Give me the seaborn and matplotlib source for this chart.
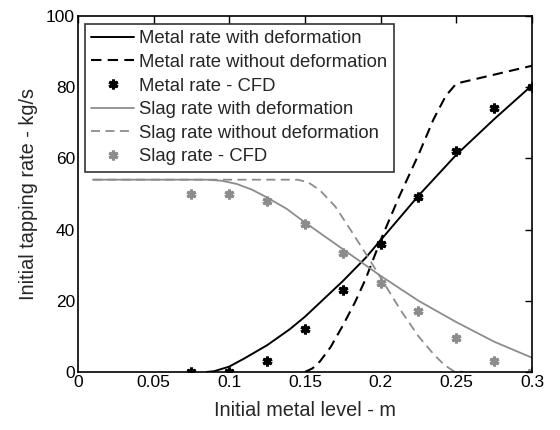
import matplotlib
matplotlib.use("Agg")
import matplotlib.pyplot as plt
import seaborn as sns

# Curves
metal_def_x = [0.085, 0.09, 0.1, 0.11, 0.125, 0.14, 0.15, 0.165, 0.175, 0.19, 0.2, 0.225, 0.25, 0.275, 0.3]
metal_def_y = [0, 0.2, 1.5, 3.8, 7.5, 12, 15.5, 21.5, 25.5, 32, 37, 49.5, 61, 71, 80.5]

metal_nodef_x = [0.15, 0.155, 0.16, 0.167, 0.175, 0.183, 0.19, 0.2, 0.212, 0.225, 0.235, 0.243, 0.25, 0.3]
metal_nodef_y = [0, 1, 3, 7, 13, 19.5, 26, 37, 49, 61, 71, 77.5, 81, 86]

metal_cfd_x = [0.075, 0.1, 0.125, 0.15, 0.175, 0.2, 0.225, 0.25, 0.275, 0.3]
metal_cfd_y = [0, 0, 3, 12, 23, 36, 49, 62, 74, 80]

slag_def_x = [0.01, 0.085, 0.095, 0.105, 0.115, 0.125, 0.138, 0.15, 0.175, 0.2, 0.225, 0.25, 0.275, 0.3]
slag_def_y = [54, 54, 53.7, 52.8, 51.2, 49, 45.8, 42, 34.5, 27, 20, 14, 8.5, 4]

slag_nodef_x = [0.01, 0.145, 0.152, 0.16, 0.17, 0.18, 0.192, 0.2, 0.213, 0.225, 0.235, 0.242, 0.248, 0.255]
slag_nodef_y = [54, 54, 53.3, 51, 46.5, 40, 32, 26.5, 17.5, 10, 5, 2, 0.3, 0]

slag_cfd_x = [0.075, 0.1, 0.125, 0.15, 0.175, 0.2, 0.225, 0.25, 0.275, 0.3]
slag_cfd_y = [50, 50, 48, 41.5, 33.5, 25, 17, 9.5, 3, 0]

x_ticks = [0, 0.05, 0.1, 0.15, 0.2, 0.25, 0.3]
x_tick_labels = ["0", "0.05", "0.1", "0.15", "0.2", "0.25", "0.3"]
y_ticks = [0, 20, 40, 60, 80, 100]

sns.set_style("white")
plt.rcParams['font.family'] = ['Liberation Sans', 'DejaVu Sans']

fig = plt.figure(figsize=(5.6, 4.3), dpi=100)
ax = fig.add_axes([0.139, 0.135, 0.811, 0.828])

gray = "#8c8c8c"
star = (6, 2, 0)

sns.lineplot(x=metal_def_x, y=metal_def_y, ax=ax, color="black", lw=1.4,
             label="Metal rate with deformation", sort=False)
sns.lineplot(x=metal_nodef_x, y=metal_nodef_y, ax=ax, color="black", lw=1.5,
             label="Metal rate without deformation", sort=False)
ax.lines[-1].set_linestyle((0, (5, 3)))
ax.plot(metal_cfd_x, metal_cfd_y, ls="none", marker=star, ms=7, mew=2.2,
        color="black", label="Metal rate - CFD")
sns.lineplot(x=slag_def_x, y=slag_def_y, ax=ax, color=gray, lw=1.3,
             label="Slag rate with deformation", sort=False)
sns.lineplot(x=slag_nodef_x, y=slag_nodef_y, ax=ax, color=gray, lw=1.3,
             label="Slag rate without deformation", sort=False)
ax.lines[-1].set_linestyle((0, (5, 3)))
ax.plot(slag_cfd_x, slag_cfd_y, ls="none", marker=star, ms=7, mew=2.2,
        color=gray, label="Slag rate - CFD")

ax.set_xlim(0, 0.3)
ax.set_ylim(0, 100)
ax.set_xticks(x_ticks)
ax.set_xticklabels(x_tick_labels)
ax.set_yticks(y_ticks)
ax.tick_params(direction="in", length=5, width=1, top=True, right=True,
               labelsize=12.5, colors="black", pad=2)
for s in ax.spines.values():
    s.set_color("black")
    s.set_linewidth(1.2)

ax.set_xlabel("Initial metal level - m", fontsize=14.3, labelpad=8)
ax.set_ylabel("Initial tapping rate - kg/s", fontsize=14.3, labelpad=6)

leg = ax.legend(loc="upper left", bbox_to_anchor=(0.0154, 0.978),
                fontsize=13.3, handlelength=2.3,
                frameon=True, fancybox=False, edgecolor="black",
                borderaxespad=0, labelspacing=0.36, handletextpad=0.3,
                borderpad=0.35)
leg.get_frame().set_linewidth(1.2)

fig.savefig("out.png", dpi=100)
